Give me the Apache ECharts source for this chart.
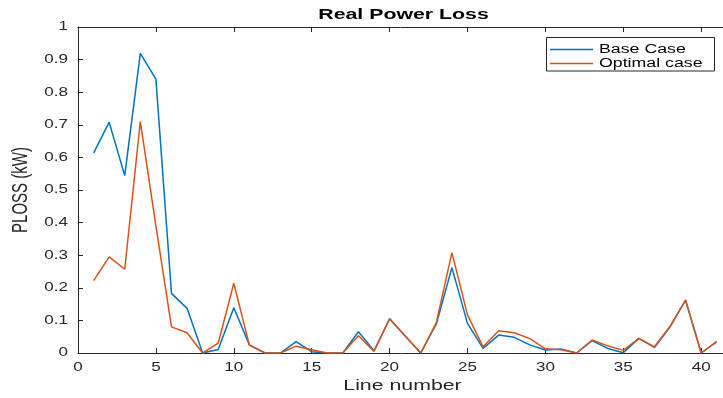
<!DOCTYPE html>
<html><head><meta charset="utf-8">
<script src="https://cdn.jsdelivr.net/npm/echarts@6/dist/echarts.min.js"></script>
<style>html,body{margin:0;padding:0;background:#fff}#c{width:723px;height:398px}</style>
</head><body><div id="c"></div>
<script>
const lineNumbers = [1,2,3,4,5,6,7,8,9,10,11,12,13,14,15,16,17,18,19,20,21,22,23,24,25,26,27,28,29,30,31,32,33,34,35,36,37,38,39,40,41];
const baseCase = [0.613,0.708,0.544,0.919,0.840,0.183,0.137,0,0.011,0.139,0.025,0,0,0.035,0.004,0,0,0.065,0.007,0.105,0.052,0,0.089,0.262,0.091,0.014,0.055,0.048,0.025,0.009,0.012,0,0.038,0.014,0.001,0.045,0.017,0.080,0.162,0,0.035];
const optimalCase = [0.222,0.295,0.257,0.710,0.390,0.080,0.062,0,0.030,0.214,0.024,0,0,0.021,0.010,0,0,0.053,0.005,0.105,0.052,0,0.093,0.308,0.117,0.019,0.068,0.062,0.044,0.013,0.010,0,0.040,0.022,0.008,0.045,0.019,0.082,0.162,0,0.035];
const seriesNames = ['Base Case','Optimal case'];
const seriesColors = ['#0072BD','#D95319'];
const xTicks = [0,5,10,15,20,25,30,35,40];
const yTicks = [0,0.1,0.2,0.3,0.4,0.5,0.6,0.7,0.8,0.9,1];
const titleText = 'Real Power Loss';
const xName = 'Line number';
const yName = 'PLOSS (kW)';

const axisColor = '#262626';
const FF = 'Liberation Sans, Arial, sans-serif';
const SX = 1.42; // horizontal stretch of the reference picture
const chart = echarts.init(document.getElementById('c'), null, {renderer:'canvas'});
const pairs = vals => lineNumbers.map((x,i)=>[x, vals[i]]);
const axisCommon = {
  axisLine:{show:true, onZero:false, lineStyle:{color:axisColor, width:1}},
  axisTick:{show:true, inside:true, length:5, lineStyle:{color:axisColor}},
  axisLabel:{show:false}, splitLine:{show:false}
};
chart.setOption({
  animation:false,
  backgroundColor:'#fff',
  grid:{left:78, top:27, bottom:45, right:0, containLabel:false},
  xAxis:[Object.assign({type:'value', min:0, max:41.4, interval:5}, axisCommon),
         Object.assign({type:'value', position:'top', min:0, max:41.4, interval:5}, axisCommon)],
  yAxis:Object.assign({type:'value', min:0, max:1, interval:0.1}, axisCommon),
  series:seriesNames.map((n,i)=>({name:n, type:'line', data:pairs(i===0?baseCase:optimalCase),
      showSymbol:false, symbol:'none', lineStyle:{color:seriesColors[i], width:1.5}, itemStyle:{color:seriesColors[i]}}))
});

const xp = v => chart.convertToPixel({xAxisIndex:0}, v);
const yp = v => chart.convertToPixel({yAxisIndex:0}, v);
const txt = (text, x, y, size, align, vAlign, extra) => Object.assign({
  type:'text', x:x, y:y, scaleX:SX, silent:true,
  style:{text:text, fontFamily:FF, fontSize:size, fill:axisColor, align:align, verticalAlign:vAlign}
}, extra||{});
const g = [];
const xMid = (xp(0)+723+8)/2;
xTicks.forEach(v=>g.push(txt(String(v), xp(v), 368, 12, 'center', 'middle')));
yTicks.forEach(v=>g.push(txt(String(v), 68, yp(v), 12, 'right', 'middle')));
g.push(txt(xName, xMid-2, 386, 15, 'center', 'middle'));
g.push({type:'text', x:21, y:(yp(0)+yp(1))/2, rotation:Math.PI/2, scaleY:SX, silent:true,
  style:{text:yName, fontFamily:FF, fontSize:15, fill:axisColor, align:'center', verticalAlign:'middle'}});
g.push(txt(titleText, xMid-1, 15, 15, 'center', 'middle', {style:{text:titleText, fontFamily:FF, fontSize:15, fontWeight:'bold', fill:'#000', align:'center', verticalAlign:'middle'}}));
// legend
g.push({type:'rect', silent:true, shape:{x:546.5, y:37.5, width:168, height:33.5},
  style:{fill:'#fff', stroke:axisColor, lineWidth:1}});
const rowsY = [49.5, 63.5];
seriesNames.forEach((n,i)=>{
  g.push({type:'rect', silent:true, shape:{x:550, y:rowsY[i]-0.7, width:43, height:1.4},
    style:{fill:seriesColors[i]}});
  g.push(Object.assign(txt(n, 599, rowsY[i], 12.5, 'left', 'middle'), {style:{text:n, fontFamily:FF, fontSize:12.5, fill:'#000', align:'left', verticalAlign:'middle'}}));
});
chart.setOption({graphic:{elements:g}});
</script></body></html>
